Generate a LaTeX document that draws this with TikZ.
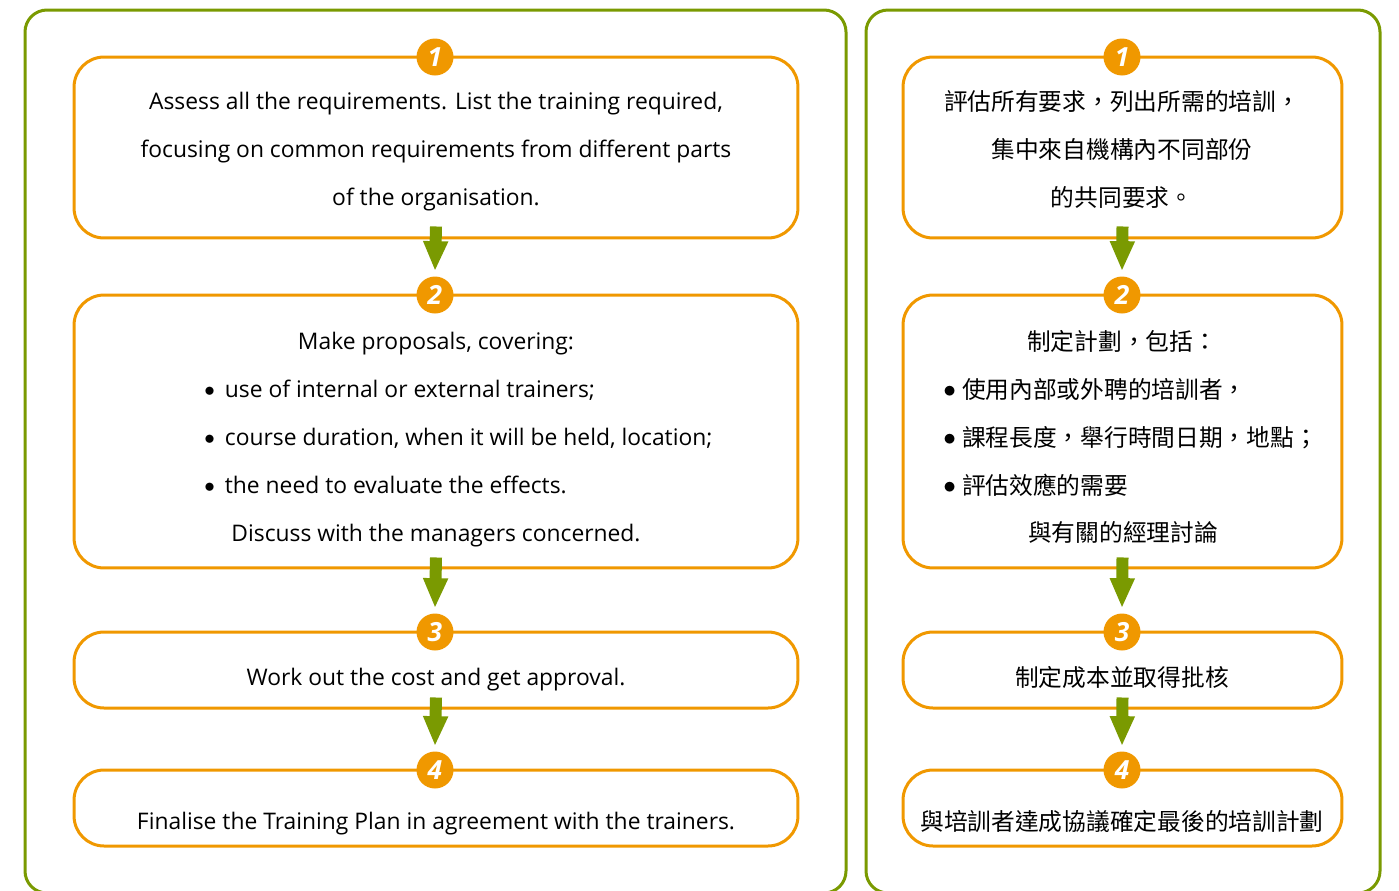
\documentclass[tikz,border=0pt]{standalone}
\usepackage{fontspec}
\setmainfont{Open Sans}
\newfontfamily\cjk{Noto Sans CJK TC}
\usetikzlibrary{positioning, arrows.meta}
\definecolor{amber}{RGB}{240,152,0}
\definecolor{leaf}{RGB}{122,154,1}
\newcommand{\numtxt}{\fontsize{15}{15}\selectfont\bfseries\itshape}
\newcommand{\bul}{\raisebox{0.02cm}{$\bullet$}\hspace{0.2cm}}
\newcommand{\cbul}{\raisebox{0.02cm}{$\bullet$}\hspace{0.12cm}}

\begin{document}
\begin{tikzpicture}[x=0.02cm, y=-0.02cm,
  panel/.style={draw=leaf, line width=0.06cm, rounded corners=0.44cm},
  stepbox/.style={draw=amber, line width=0.06cm, rounded corners=0.6cm, inner sep=0pt},
  num/.style={circle, fill=amber, minimum size=0.74cm, inner sep=0pt, text=white, font=\numtxt},
  flow/.style={leaf, line width=0.24cm, -{Triangle[width=0.46cm, length=0.6cm]}},
  txt/.style={font=\fontsize{13}{27.3}\selectfont, align=center, inner sep=0pt},
  ctxt/.style={font=\cjk\fontsize{13.5}{27.3}\selectfont, align=center, inner sep=0pt}]
\useasboundingbox (0,0) rectangle (1399,890);
\path[clip] (0,0) rectangle (1399,890);

% panels
\draw[panel] (25,10) rectangle (846,893);
\draw[panel] (866,10) rectangle (1380,893);

% English steps
\node[stepbox, minimum width=14.48cm, minimum height=3.62cm] (l1) at (436,147.5) {};
\node[stepbox, minimum width=14.48cm, minimum height=5.46cm] (l2) at (436,431.5) {};
\node[stepbox, minimum width=14.48cm, minimum height=1.52cm] (l3) at (436,670) {};
\node[stepbox, minimum width=14.48cm, minimum height=1.52cm] (l4) at (436,808) {};
\node[num] (ln1) at (435,57) {1};
\node[num] (ln2) at (435,295) {2};
\node[num] (ln3) at (435,632) {3};
\node[num] (ln4) at (435,770) {4};

\node[txt] (lt1) at (436,152) {Assess all the requirements. List the training required,\\
  focusing on common requirements from different parts\\ of the organisation.};
\node[txt] (lt2a) at (436,344) {Make proposals, covering:};
\node[txt, align=left, anchor=west] (lt2b) at (204,437) {\bul use of internal or external trainers;\\
  \bul course duration, when it will be held, location;\\ \bul the need to evaluate the effects.};
\node[txt] (lt2c) at (436,536) {Discuss with the managers concerned.};
\node[txt] (lt3) at (436,680) {Work out the cost and get approval.};
\node[txt] (lt4) at (436,824) {Finalise the Training Plan in agreement with the trainers.};

\draw[flow] ([yshift=0.26cm]l1.south) -- ([yshift=0.1cm]ln2.north);
\draw[flow] ([yshift=0.24cm]l2.south) -- ([yshift=0.1cm]ln3.north);
\draw[flow] ([yshift=0.24cm]l3.south) -- ([yshift=0.1cm]ln4.north);

% Chinese steps
\node[stepbox, minimum width=8.78cm, minimum height=3.62cm] (r1) at (1122.5,147.5) {};
\node[stepbox, minimum width=8.78cm, minimum height=5.46cm] (r2) at (1122.5,431.5) {};
\node[stepbox, minimum width=8.78cm, minimum height=1.52cm] (r3) at (1122.5,670) {};
\node[stepbox, minimum width=8.78cm, minimum height=1.52cm] (r4) at (1122.5,808) {};
\node[num] (rn1) at (1122,57) {1};
\node[num] (rn2) at (1122,295) {2};
\node[num] (rn3) at (1122,632) {3};
\node[num] (rn4) at (1122,770) {4};

\node[ctxt] (rt1) at (1122,149.5) {評估所有要求，列出所需的培訓，\\ 集中來自機構內不同部份\\ 的共同要求。};
\node[ctxt] (rt2a) at (1122,341.5) {制定計劃，包括：};
\node[ctxt, align=left, anchor=west] (rt2b) at (943,437) {\cbul 使用內部或外聘的培訓者，\\
  \cbul 課程長度，舉行時間日期，地點；\\ \cbul 評估效應的需要};
\node[ctxt] (rt2c) at (1123,532.5) {與有關的經理討論};
\node[ctxt] (rt3) at (1122,677.5) {制定成本並取得批核};
\node[ctxt] (rt4) at (1122,821.5) {與培訓者達成協議確定最後的培訓計劃};

\draw[flow] ([yshift=0.26cm]r1.south) -- ([yshift=0.1cm]rn2.north);
\draw[flow] ([yshift=0.24cm]r2.south) -- ([yshift=0.1cm]rn3.north);
\draw[flow] ([yshift=0.24cm]r3.south) -- ([yshift=0.1cm]rn4.north);
\end{tikzpicture}
\end{document}
